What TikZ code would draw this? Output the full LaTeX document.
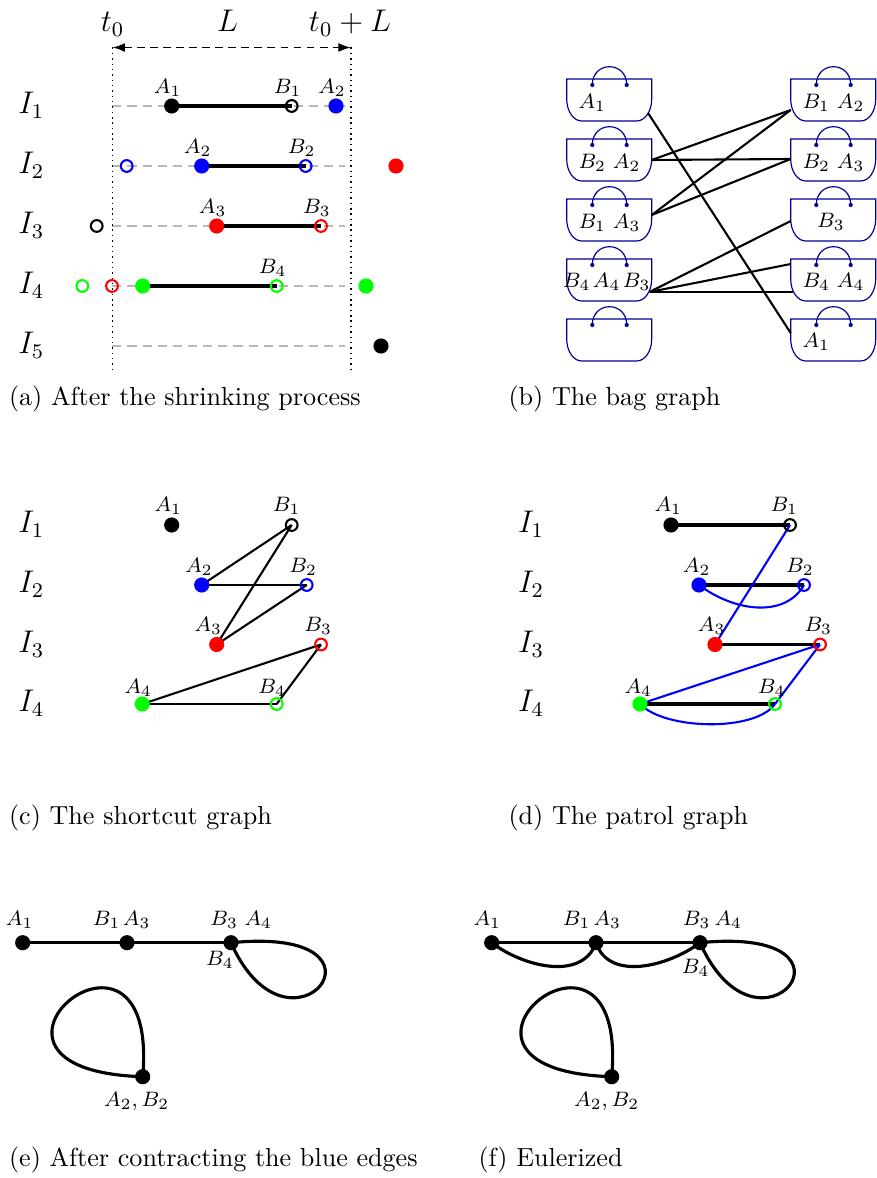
\documentclass[tikz,border=0pt]{standalone}
\usetikzlibrary{arrows.meta}
\pgfdeclarelayer{bg}
\pgfdeclarelayer{bgg}
\pgfsetlayers{bgg,bg,main}
\definecolor{bagc}{RGB}{0,0,150}
\tikzset{
  fdot/.style={circle, fill=#1, inner sep=0pt, minimum size=5.8pt},
  odot/.style={circle, draw=#1, line width=0.8pt, inner sep=0pt, minimum size=4.5pt},
  lab/.style={font=\fontsize{8}{10}\selectfont, inner sep=0pt},
  big/.style={font=\fontsize{12}{14}\selectfont, inner sep=0pt, anchor=base},
  captext/.style={font=\fontsize{10}{12}\selectfont, anchor=base west, inner sep=0pt},
  seg/.style={line width=1.2pt},
  gdash/.style={black!28, line width=0.8pt, dash pattern=on 3.5pt off 2.3pt},
  edgeline/.style={line width=0.8pt},
  bedge/.style={blue, line width=0.8pt},
  loopline/.style={line width=1.2pt},
  bagline/.style={bagc, line width=0.45pt},
  bag/.pic={
    \draw[bagline] (0,0) -- (0,20) .. controls (0,32.15) and (6.7,42) .. (15,42) -- (70,42) .. controls (78.3,42) and (85,32.15) .. (85,20) -- (85,0) -- cycle;
    \draw[bagline] (25.6,6) .. controls (25.6,-18.4) and (60,-18.4) .. (60,6);
    \fill[bagc] (25.6,6) circle (0.8pt) (60,6) circle (0.8pt);
  }
}
\begin{document}
\begin{tikzpicture}[x=0.383pt, y=-0.383pt]
\useasboundingbox (0,0) rectangle (876,1178);

%% ---------------- (a) ----------------
\node[big, font=\fontsize{11.8}{14}\selectfont] (tz) at (112.5,32) {$t_0$};
\node[big, font=\fontsize{11.8}{14}\selectfont] (tL) at (227.5,32) {$L$};
\node[big, font=\fontsize{11.8}{14}\selectfont] (tzL) at (350,32) {$t_0+L$};
\coordinate (tl) at (112.3,47.5);
\coordinate (tr) at (351,47.5);
\coordinate (bl) at (112.3,372);
\coordinate (br) at (351,372);
\draw[line width=0.75pt, dash pattern=on 3pt off 2pt, {Latex[length=4.8pt,width=3.4pt]}-{Latex[length=4.8pt,width=3.4pt]}] (tl) -- (tr);
\draw[line width=0.55pt, dash pattern=on 0.55pt off 1.5pt] (tl) -- (bl);
\draw[line width=0.55pt, dash pattern=on 0.55pt off 1.5pt] (tr) -- (br);

\foreach \r/\y in {1/106,2/166,3/226,4/286,5/346} {
  \node[big] (aI\r) at (31.3,{\y+7.8}) {$I_{\r}$};
  \coordinate (gs\r) at (112.3,\y);
  \coordinate (ge\r) at (345,\y);
  \begin{pgfonlayer}{bgg}
  \draw[gdash] (gs\r) -- (ge\r);
  \end{pgfonlayer}
}
% row 1
\node[fdot=black] (aA1) at (171.7,106) {};
\node[odot=black] (aB1) at (291.7,106) {};
\node[fdot=blue] (aX1) at (336,106) {};
% row 2
\node[odot=blue] (aX2) at (126.7,166) {};
\node[fdot=blue] (aA2) at (201.7,166) {};
\node[odot=blue] (aB2) at (305.7,166) {};
\node[fdot=red] (aX3) at (396,166) {};
% row 3
\node[odot=black] (aX4) at (96.7,226) {};
\node[fdot=red] (aA3) at (216.7,226) {};
\node[odot=red] (aB3) at (321,226) {};
% row 4
\node[odot=green] (aX5) at (82.3,286) {};
\node[odot=red] (aX6) at (112,286) {};
\node[fdot=green] (aA4) at (142.7,286) {};
\node[odot=green] (aB4) at (276.7,286) {};
\node[fdot=green] (aX7) at (366,286) {};
% row 5
\node[fdot=black] (aX8) at (381,346) {};
\begin{pgfonlayer}{bg}
\draw[seg] (aA1.center) -- (aB1.center);
\draw[seg] (aA2.center) -- (aB2.center);
\draw[seg] (aA3.center) -- (aB3.center);
\draw[seg] (aA4.center) -- (aB4.center);
\end{pgfonlayer}
\node[lab] (laA1) at (167.7,88) {$A_1$};
\node[lab] (laB1) at (287.7,88) {$B_1$};
\node[lab] (laX1) at (332,88) {$A_2$};
\node[lab] (laA2) at (197.7,148) {$A_2$};
\node[lab] (laB2) at (301.7,148) {$B_2$};
\node[lab] (laA3) at (212.7,208) {$A_3$};
\node[lab] (laB3) at (317,208) {$B_3$};
\node[lab] (laB4) at (272.7,268) {$B_4$};
\node[captext] (capa) at (8.5,406) {(a) After the shrinking process};

%% ---------------- (b) ----------------
\foreach \k/\t in {1/79,2/139,3/199,4/259,5/319} {
  \pic at (566.7,\t) {bag};
  \pic at (790.7,\t) {bag};
}
\node[lab] (bl1a) at (592.3,103) {$A_1$};
\node[lab] (bl2a) at (592.3,163) {$B_2$};
\node[lab] (bl2b) at (626.7,163) {$A_2$};
\node[lab] (bl3a) at (592.3,223) {$B_1$};
\node[lab] (bl3b) at (626.7,223) {$A_3$};
\node[lab] (bl4a) at (576.7,282) {$B_4$};
\node[lab] (bl4b) at (606.7,282) {$A_4$};
\node[lab] (bl4c) at (636.7,282) {$B_3$};
\node[lab] (br1a) at (816.3,103) {$B_1$};
\node[lab] (br1b) at (850.7,103) {$A_2$};
\node[lab] (br2a) at (816.3,163) {$B_2$};
\node[lab] (br2b) at (850.7,163) {$A_3$};
\node[lab] (br3a) at (831,222) {$B_3$};
\node[lab] (br4a) at (816.3,282) {$B_4$};
\node[lab] (br4b) at (850.7,282) {$A_4$};
\node[lab] (br5a) at (816.3,342) {$A_1$};
\coordinate (L1e) at (648,113);
\coordinate (L2e) at (651.7,160);
\coordinate (L3e) at (651.7,215);
\coordinate (L4e) at (649.5,292);
\coordinate (R1w) at (790.7,110);
\coordinate (R2w) at (790.7,159);
\coordinate (R3w) at (790.7,221);
\coordinate (R4w) at (790.7,264);
\coordinate (R4s) at (793,292);
\coordinate (R5w) at (790.7,333);
\draw[edgeline] (L1e) -- (R5w);
\draw[edgeline] (L2e) -- (R1w);
\draw[edgeline] (L2e) -- (R2w);
\draw[edgeline] (L3e) -- (R1w);
\draw[edgeline] (L3e) -- (R2w);
\draw[edgeline] (L4e) -- (R3w);
\draw[edgeline] (L4e) -- (R4w);
\draw[edgeline] (L4e) -- (R4s);
\node[captext] (capb) at (508,406) {(b) The bag graph};

%% ---------------- (c) ----------------
\foreach \r/\y in {1/525,2/585,3/644.5,4/704} {
  \node[big] (cI\r) at (31.3,{\y+7.8}) {$I_{\r}$};
  \node[big] (dI\r) at (531,{\y+7.8}) {$I_{\r}$};
}
\node[fdot=black] (cA1) at (171.7,525) {};
\node[odot=black] (cB1) at (291.7,525) {};
\node[fdot=blue] (cA2) at (201.7,585) {};
\node[odot=blue] (cB2) at (306.7,585) {};
\node[fdot=red] (cA3) at (216.7,644.5) {};
\node[odot=red] (cB3) at (321,644.5) {};
\node[fdot=green] (cA4) at (142.3,704) {};
\node[odot=green] (cB4) at (276.7,704) {};
\begin{pgfonlayer}{bg}
\draw[edgeline] (cB1.center) -- (cA2.center);
\draw[edgeline] (cB1.center) -- (cA3.center);
\draw[edgeline] (cA2.center) -- (cB2.center);
\draw[edgeline] (cB2.center) -- (cA3.center);
\draw[edgeline] (cA4.center) -- (cB3.center);
\draw[edgeline] (cA4.center) -- (cB4.center);
\draw[edgeline] (cB4.center) -- (cB3.center);
\end{pgfonlayer}
\node[lab] (lcA1) at (168.3,505.5) {$A_1$};
\node[lab] (lcB1) at (286.7,505.5) {$B_1$};
\node[lab] (lcA2) at (199,566.5) {$A_2$};
\node[lab] (lcB2) at (303.3,566.5) {$B_2$};
\node[lab] (lcA3) at (208.3,625.5) {$A_3$};
\node[lab] (lcB3) at (318.3,625.5) {$B_3$};
\node[lab] (lcA4) at (138.3,687.5) {$A_4$};
\node[lab] (lcB4) at (272.3,687.5) {$B_4$};
\node[captext] (capc) at (8.5,824) {(c) The shortcut graph};

%% ---------------- (d) ----------------
\node[fdot=black] (dA1) at (671,525) {};
\node[odot=black] (dB1) at (790,525) {};
\node[fdot=blue] (dA2) at (699,585) {};
\node[odot=blue] (dB2) at (804,585) {};
\node[fdot=red] (dA3) at (715,644.5) {};
\node[odot=red] (dB3) at (820,644.5) {};
\node[fdot=green] (dA4) at (640,704) {};
\node[odot=green] (dB4) at (775,704) {};
\begin{pgfonlayer}{bg}
\draw[seg] (dA1.center) -- (dB1.center);
\draw[seg] (dA2.center) -- (dB2.center);
\draw[seg] (dA3.center) -- (dB3.center);
\draw[seg] (dA4.center) -- (dB4.center);
\draw[bedge] (dB1.center) -- (dA3.center);
\draw[bedge] (dA2.center) .. controls (735,612) and (785,618) .. (dB2.center);
\draw[bedge] (dA4.center) -- (dB3.center);
\draw[bedge] (dB4.center) -- (dB3.center);
\draw[bedge] (dA4.center) .. controls (665,730) and (755,732) .. (dB4.center);
\end{pgfonlayer}
\node[lab] (ldA1) at (668.3,505.5) {$A_1$};
\node[lab] (ldB1) at (784.3,505.5) {$B_1$};
\node[lab] (ldA2) at (696.7,566.5) {$A_2$};
\node[lab] (ldB2) at (800,566.5) {$B_2$};
\node[lab] (ldA3) at (711.7,625.5) {$A_3$};
\node[lab] (ldB3) at (818.3,625.5) {$B_3$};
\node[lab] (ldA4) at (638.3,687.5) {$A_4$};
\node[lab] (ldB4) at (771.7,687.5) {$B_4$};
\node[captext] (capd) at (508,824) {(d) The patrol graph};

%% ---------------- (e) ----------------
\node[fdot=black] (e1) at (22.7,942.7) {};
\node[fdot=black] (e2) at (127,942.7) {};
\node[fdot=black] (e3) at (231,942.7) {};
\node[fdot=black] (e4) at (142.7,1076.7) {};
\begin{pgfonlayer}{bg}
\draw[loopline] (e1.center) -- (e2.center) -- (e3.center);
\draw[loopline] (e3.center) .. controls (410,925) and (290,1075) .. (e3.center);
\draw[loopline] (e4.center) .. controls (160,880) and (-70,1070) .. (e4.center);
\end{pgfonlayer}
\node[lab] (le1) at (19.7,920) {$A_1$};
\node[lab] (le2a) at (106.7,920) {$B_1$};
\node[lab] (le2b) at (136.7,920) {$A_3$};
\node[lab] (le3a) at (224.3,920) {$B_3$};
\node[lab] (le3b) at (258.3,920) {$A_4$};
\node[lab] (le3c) at (220,960) {$B_4$};
\node[lab] (le4) at (136.7,1101.7) {$A_2,B_2$};
\node[captext] (cape) at (8.5,1166) {(e) After contracting the blue edges};

%% ---------------- (f) ----------------
\node[fdot=black] (f1) at (491.7,942.7) {};
\node[fdot=black] (f2) at (596,942.7) {};
\node[fdot=black] (f3) at (700,942.7) {};
\node[fdot=black] (f4) at (611.7,1076.7) {};
\begin{pgfonlayer}{bg}
\draw[loopline] (f1.center) -- (f2.center) -- (f3.center);
\draw[loopline] (f1.center) .. controls (522,966) and (582,982) .. (f2.center);
\draw[loopline] (f2.center) .. controls (609,982) and (669,966) .. (f3.center);
\draw[loopline] (f3.center) .. controls (879,925) and (759,1075) .. (f3.center);
\draw[loopline] (f4.center) .. controls (629,880) and (399,1070) .. (f4.center);
\end{pgfonlayer}
\node[lab] (lf1) at (487.3,920) {$A_1$};
\node[lab] (lf2a) at (576.7,920) {$B_1$};
\node[lab] (lf2b) at (607.3,920) {$A_3$};
\node[lab] (lf3a) at (696.7,920) {$B_3$};
\node[lab] (lf3b) at (728.3,920) {$A_4$};
\node[lab] (lf3c) at (695.7,968) {$B_4$};
\node[lab] (lf4) at (606.7,1101.7) {$A_2,B_2$};
\node[captext] (capf) at (478,1166) {(f) Eulerized};
\end{tikzpicture}
\end{document}
